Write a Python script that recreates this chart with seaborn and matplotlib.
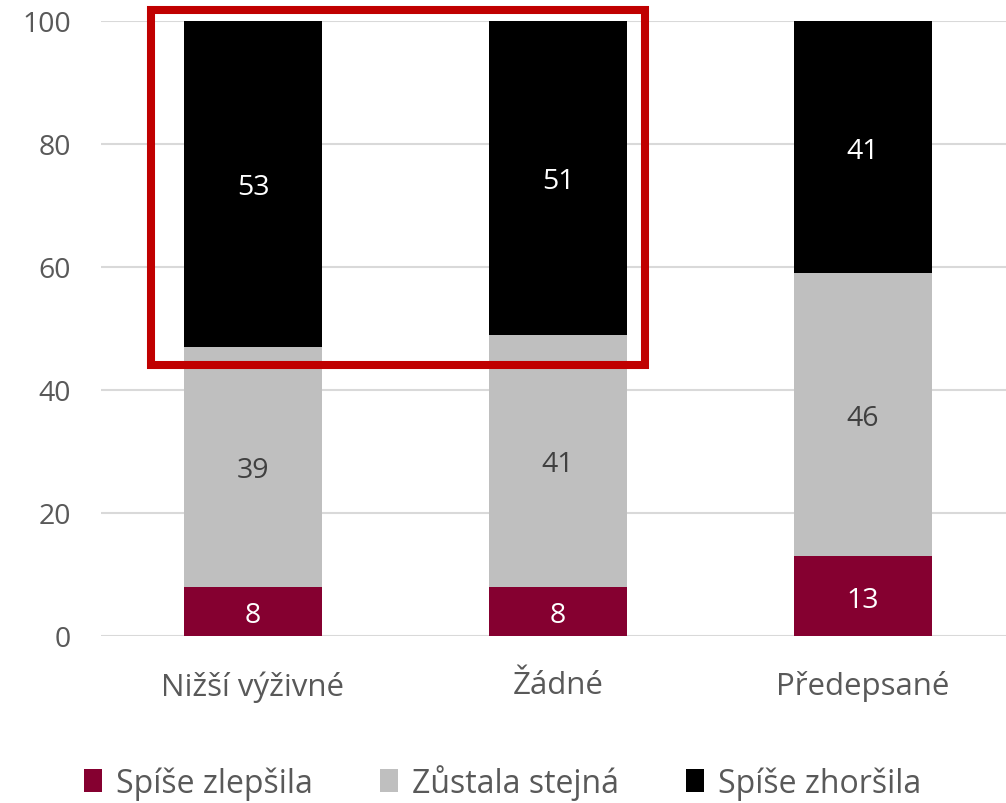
import matplotlib
matplotlib.use("Agg")
import matplotlib.pyplot as plt
from matplotlib.patches import Patch, Rectangle
import numpy as np
import pandas as pd
import seaborn as sns

# Survey responses: how the situation changed, by type of alimony
categories = ["Nižší výživné", "Žádné", "Předepsané"]
series_names = ["Spíše zlepšila", "Zůstala stejná", "Spíše zhoršila"]
improved = [8, 8, 13]
same = [39, 41, 46]
worse = [53, 51, 41]
y_ticks = [0, 20, 40, 60, 80, 100]

colors = ["#850030", "#BFBFBF", "#000000"]
label_colors = ["white", "#404040", "white"]
text_color = "#595959"

sns.set_theme(style="white")
plt.rcParams["font.family"] = ["Open Sans", "DejaVu Sans"]

fig = plt.figure(figsize=(10.06, 8.04), dpi=100)
ax = fig.add_axes([100.5 / 1006, 1 - 637 / 804, 1 - 100.5 / 1006, (637 - 22) / 804])

values = [improved, same, worse]
bottoms = np.vstack([np.zeros(3), np.cumsum(values, axis=0)[:-1]])
tops = np.cumsum(values, axis=0)

# Stacked bars: draw cumulative totals from the top layer down
for i in reversed(range(3)):
    df = pd.DataFrame({"kategorie": categories, "hodnota": tops[i]})
    sns.barplot(data=df, x="kategorie", y="hodnota", order=categories,
                color=colors[i], width=0.454, saturation=1, ax=ax,
                edgecolor="none", linewidth=0, zorder=2)

# Value labels centred in each segment
for i in range(3):
    for j in range(3):
        ax.text(j, bottoms[i][j] + values[i][j] / 2, str(values[i][j]),
                ha="center", va="center_baseline", fontsize=20.5,
                color=label_colors[i], zorder=3)

ax.set_xlim(-0.5, 2.469)
ax.set_ylim(0, 100)
ax.set_yticks(y_ticks)
ax.set_yticklabels([str(t) for t in y_ticks])
ax.yaxis.grid(True, color="#D9D9D9", linewidth=1.5, zorder=0)
ax.set_axisbelow(True)
ax.set_xlabel("")
ax.set_ylabel("")
for s in ax.spines.values():
    s.set_visible(False)
ax.tick_params(axis="y", length=0, pad=21, labelsize=20.5, labelcolor=text_color)
ax.tick_params(axis="x", length=0, pad=24.5, labelsize=22.5, labelcolor=text_color)

# Highlight box around the upper part of the first two bars
ax.add_patch(Rectangle((-0.335, 44.0), 1.286 + 0.335, 101.8 - 44.0,
                       fill=False, edgecolor="#C00000", linewidth=5.8,
                       clip_on=False, zorder=4, joinstyle="miter"))

handles = [Patch(facecolor=c, edgecolor="none") for c in colors]
fig.legend(handles, series_names, loc="center", bbox_to_anchor=(0.5, 1 - 783 / 804),
           ncol=3, frameon=False, fontsize=23, handlelength=0.55, handleheight=0.75,
           handletextpad=0.45, columnspacing=2.1, labelcolor=text_color)

fig.savefig("out.png", dpi=100)
